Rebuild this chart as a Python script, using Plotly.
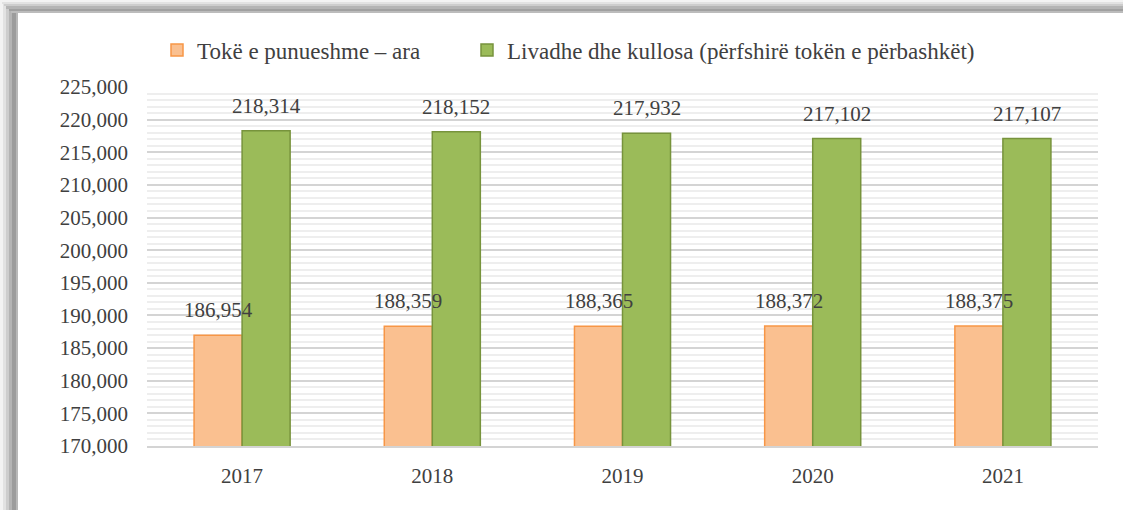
import plotly.graph_objects as go

years = ["2017", "2018", "2019", "2020", "2021"]
arable = [186954, 188359, 188365, 188372, 188375]
meadows = [218314, 218152, 217932, 217102, 217107]
name_arable = "Tokë e punueshme – ara"
name_meadows = "Livadhe dhe kullosa (përfshirë tokën e përbashkët)"

W, H = 1123, 510
ML, MR, MT, MB = 147, 25, 87, 64
FONT = "Liberation Serif, DejaVu Serif, serif"
TXT = "#404040"

fig = go.Figure()
fig.add_trace(go.Bar(
    x=years, y=arable, name=name_arable, legend="legend",
    marker=dict(color="#FAC090", line=dict(color="#F79646", width=1.5)),
    cliponaxis=False,
))
fig.add_trace(go.Bar(
    x=years, y=meadows, name=name_meadows, legend="legend2",
    marker=dict(color="#9BBB59", line=dict(color="#77933C", width=1.5)),
    cliponaxis=False,
))

# data labels (x given as category serial number, as the category axis expects)
annos = []
for i, (a, m) in enumerate(zip(arable, meadows)):
    annos.append(dict(x=i, y=a, xref="x", yref="y", text=f"{a:,}",
                      xshift=-24, yshift=25, showarrow=False, yanchor="middle",
                      font=dict(family=FONT, size=21, color=TXT)))
    annos.append(dict(x=i, y=m, xref="x", yref="y", text=f"{m:,}",
                      xshift=24, yshift=25, showarrow=False, yanchor="middle",
                      font=dict(family=FONT, size=21, color=TXT)))

# window frame shadow (pixel strips converted to paper coords)
pw, ph = W - ML - MR, H - MT - MB
def px(x):
    return (x - ML) / pw
def py(y):
    return (H - MB - y) / ph

shapes = []
left = [(0, 3, "#f3f3f3"), (3, 6, "#e2e2e2"), (6, 9, "#cdcdcd"),
        (9, 12, "#b4b4b4"), (12, 16, "#9c9c9c"), (16, 18, "#b8b8b8")]
top = [(0, 2, "#f3f3f3"), (2, 4, "#e2e2e2"), (4, 6, "#cdcdcd"),
       (6, 9, "#b4b4b4"), (9, 11, "#a0a0a0"), (11, 13, "#bcbcbc")]
for x0, x1, c in left:
    shapes.append(dict(type="rect", xref="paper", yref="paper",
                       x0=px(x0), x1=px(x1), y0=py(H), y1=py(min(x0, 13)),
                       fillcolor=c, line=dict(width=0), layer="below"))
for y0, y1, c in top:
    shapes.append(dict(type="rect", xref="paper", yref="paper",
                       x0=px(min(y0, 18)), x1=px(W), y0=py(y1), y1=py(y0),
                       fillcolor=c, line=dict(width=0), layer="below"))

legend_common = dict(orientation="h", xref="container", yref="container",
                     xanchor="left", y=1 - 50 / H, yanchor="middle",
                     font=dict(family=FONT, size=23, color=TXT),
                     bgcolor="rgba(0,0,0,0)")

fig.update_layout(
    width=W, height=H,
    margin=dict(l=ML, r=MR, t=MT, b=MB, autoexpand=False),
    paper_bgcolor="white", plot_bgcolor="white",
    barmode="group", bargap=0.495, bargroupgap=0,
    font=dict(family=FONT, size=21, color=TXT),
    showlegend=True,
    legend=dict(legend_common, x=157 / W),
    legend2=dict(legend_common, x=467 / W),
    annotations=annos,
    shapes=shapes,
)
fig.update_yaxes(
    range=[170000, 225000], dtick=5000, tickformat=",",
    showgrid=True, gridcolor="#d4d4d4", gridwidth=2,
    minor=dict(dtick=1000, showgrid=True, gridcolor="#eeeeee", gridwidth=1.5),
    zeroline=False, showline=False, ticks="", ticklabelstandoff=18,
    tickfont=dict(family=FONT, size=21, color=TXT),
)
fig.update_xaxes(
    type="category", categoryorder="array", categoryarray=years,
    range=[-0.5, len(years) - 0.5],
    showline=True, linecolor="#d4d4d4", linewidth=2, ticks="",
    ticklabelstandoff=10,
    tickfont=dict(family=FONT, size=21, color=TXT),
)

fig.write_html(
    "out.html",
    config={"displayModeBar": False},
    post_script="document.body.style.margin='0';"
                "var gd=document.getElementById('{plot_id}');"
                "gd.style.position='absolute';gd.style.left='0px';gd.style.top='0px';",
)
